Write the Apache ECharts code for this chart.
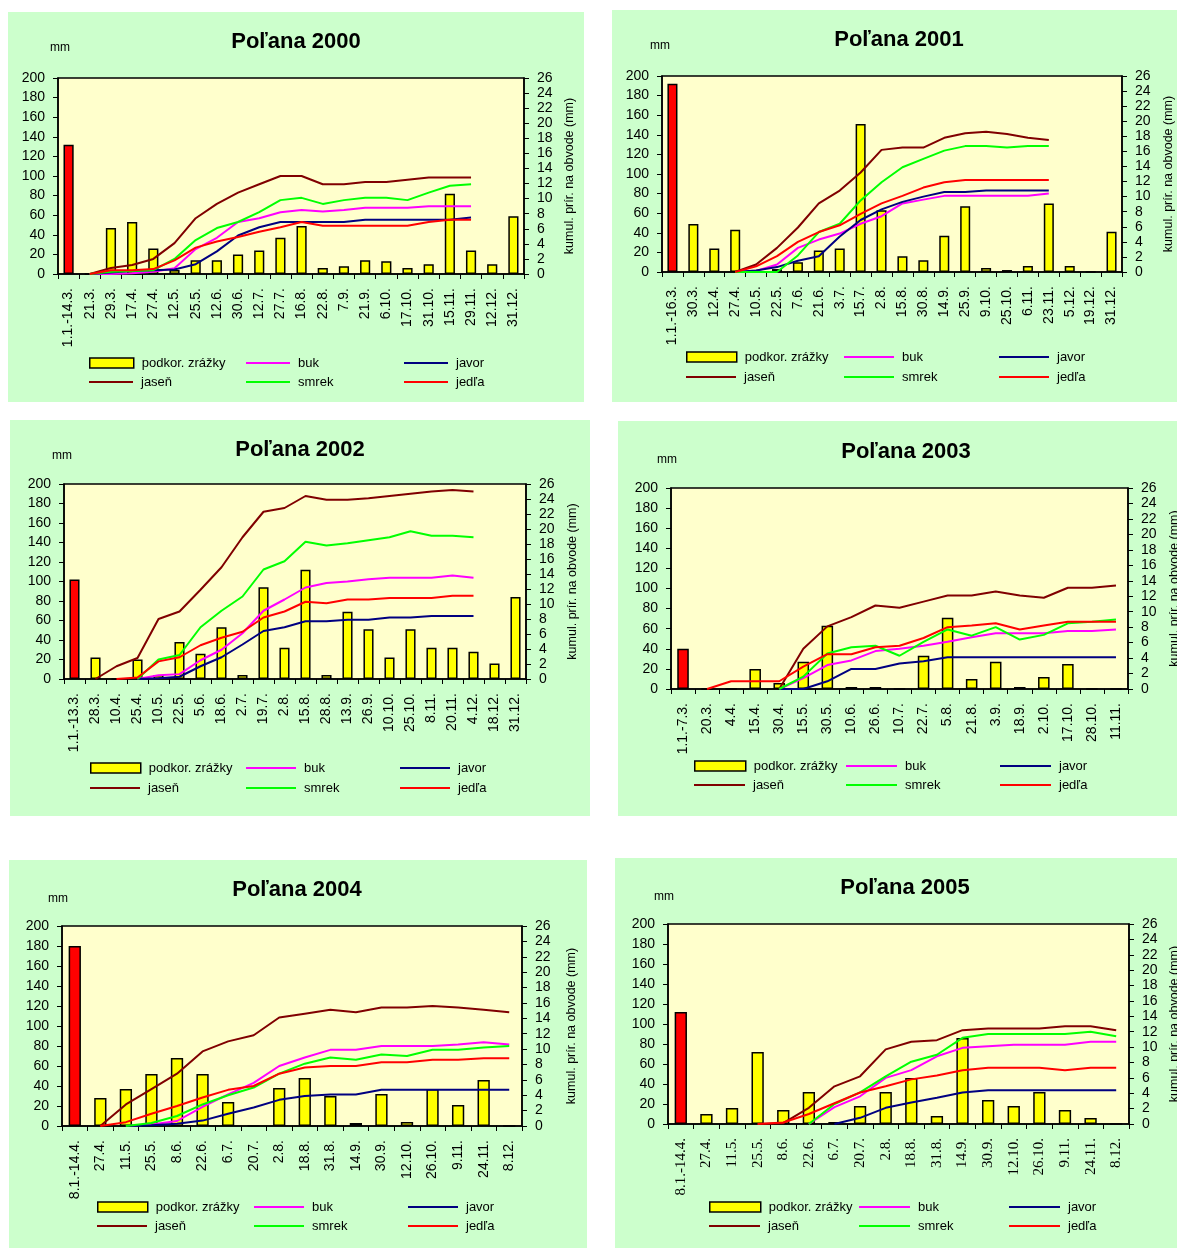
<!DOCTYPE html>
<html>
<head>
<meta charset="utf-8">
<script src="https://cdn.jsdelivr.net/npm/echarts@6/dist/echarts.min.js"></script>
<style>
  html, body { margin: 0; padding: 0; background: #fff; }
  body { position: relative; width: 1177px; height: 1248px; overflow: hidden; }
  .panel { position: absolute; background: #ccffcc; }
</style>
</head>
<body>
<div id="p2000" class="panel"></div>
<div id="p2001" class="panel"></div>
<div id="p2002" class="panel"></div>
<div id="p2003" class="panel"></div>
<div id="p2004" class="panel"></div>
<div id="p2005" class="panel"></div>
<script>
// --- data: bars = podkorunové zrážky (mm, left axis), lines = kumulatívny prírastok (mm, right axis)
const cats2000 = ['1.1.-14.3.', '21.3.', '29.3.', '17.4.', '27.4.', '12.5.', '25.5.', '12.6.', '30.6.', '12.7.', '27.7.', '16.8.', '22.8.', '7.9.', '21.9.', '6.10.', '17.10.', '31.10.', '15.11.', '29.11.', '12.12.', '31.12.']
const zrazky2000 = [132, 0, 47, 53, 26, 4, 14, 14, 20, 24, 37, 49, 6, 8, 14, 13, 6, 10, 82, 24, 10, 59]
const buk2000 = [null, 0, 0, 0.1, 0.3, 0.75, 3.3, 4.8, 6.9, 7.4, 8.2, 8.5, 8.3, 8.5, 8.8, 8.8, 8.8, 9.0, 9.0, 9.0, null, null]
const javor2000 = [null, 0, 0.2, 0.4, 0.5, 0.6, 1.3, 3.0, 5.1, 6.2, 6.9, 6.9, 6.9, 6.9, 7.2, 7.2, 7.2, 7.2, 7.2, 7.5, null, null]
const jasen2000 = [null, 0, 0.8, 1.2, 2.0, 4.1, 7.4, 9.3, 10.8, 11.9, 13.0, 13.0, 11.9, 11.9, 12.2, 12.2, 12.5, 12.8, 12.8, 12.8, null, null]
const smrek2000 = [null, 0, 0.3, 0.4, 0.5, 2.0, 4.5, 6.1, 6.9, 8.2, 9.8, 10.1, 9.3, 9.8, 10.1, 10.1, 9.8, 10.8, 11.7, 11.9, null, null]
const jedla2000 = [null, 0, 0.5, 0.5, 0.65, 1.8, 3.5, 4.3, 4.9, 5.6, 6.2, 6.9, 6.4, 6.4, 6.4, 6.4, 6.4, 6.9, 7.2, 7.2, null, null]

const cats2001 = ['1.1.-16.3.', '30.3.', '12.4.', '27.4.', '10.5.', '22.5.', '7.6.', '21.6.', '3.7.', '15.7.', '2.8.', '15.8.', '30.8.', '14.9.', '25.9.', '9.10.', '25.10.', '6.11.', '23.11.', '5.12.', '19.12.', '31.12.']
const zrazky2001 = [192, 49, 24, 43, 0, 3, 10, 22, 24, 151, 63, 16, 12, 37, 67, 4, 2, 6, 70, 6, 0, 41]
const buk2001 = [null, null, null, 0, 0.15, 1.0, 3.2, 4.3, 5.1, 6.4, 7.4, 9.1, 9.6, 10.1, 10.1, 10.1, 10.1, 10.1, 10.4, null, null, null]
const javor2001 = [null, null, null, 0, 0.2, 0.65, 1.5, 2.1, 4.7, 6.9, 8.3, 9.3, 10.0, 10.6, 10.6, 10.8, 10.8, 10.8, 10.8, null, null, null]
const jasen2001 = [null, null, null, 0, 1.0, 3.2, 5.9, 9.1, 10.8, 13.2, 16.2, 16.5, 16.5, 17.8, 18.4, 18.6, 18.3, 17.8, 17.5, null, null, null]
const smrek2001 = [null, null, null, 0, 0, 0, 2.2, 5.3, 6.4, 9.5, 11.9, 13.9, 15.0, 16.1, 16.7, 16.7, 16.5, 16.7, 16.7, null, null, null]
const jedla2001 = [null, null, null, 0, 0.75, 2.1, 4.0, 5.3, 6.2, 7.7, 9.1, 10.1, 11.2, 11.9, 12.2, 12.2, 12.2, 12.2, 12.2, null, null, null]

const cats2002 = ['1.1.-13.3.', '28.3.', '10.4.', '25.4.', '10.5.', '22.5.', '5.6.', '18.6.', '2.7.', '19.7.', '2.8.', '15.8.', '28.8.', '13.9.', '26.9.', '10.10.', '25.10.', '8.11.', '20.11.', '4.12.', '18.12.', '31.12.']
const zrazky2002 = [102, 22, 0, 20, 4, 38, 26, 53, 4, 94, 32, 112, 4, 69, 51, 22, 51, 32, 32, 28, 16, 84]
const buk2002 = [null, null, null, 0, 0.5, 0.65, 2.5, 3.9, 6.1, 9.1, 10.6, 12.2, 12.8, 13.0, 13.3, 13.5, 13.5, 13.5, 13.8, 13.5, null, null]
const javor2002 = [null, null, null, 0, 0.1, 0.3, 1.7, 2.9, 4.6, 6.4, 6.9, 7.7, 7.7, 7.9, 7.9, 8.2, 8.2, 8.4, 8.4, 8.4, null, null]
const jasen2002 = [null, 0, 1.7, 2.8, 8.0, 9.0, 11.9, 14.9, 18.9, 22.3, 22.8, 24.4, 23.9, 23.9, 24.1, 24.4, 24.7, 25.0, 25.2, 25.0, null, null]
const smrek2002 = [null, null, null, 0, 2.6, 3.2, 6.9, 9.1, 11.0, 14.6, 15.7, 18.3, 17.8, 18.1, 18.5, 18.9, 19.7, 19.1, 19.1, 18.9, null, null]
const jedla2002 = [null, null, 0, 0.2, 2.35, 2.9, 4.5, 5.5, 6.3, 8.2, 9.0, 10.3, 10.1, 10.6, 10.6, 10.8, 10.8, 10.8, 11.1, 11.1, null, null]

const cats2003 = ['1.1.-7.3.', '20.3.', '4.4.', '15.4.', '30.4.', '15.5.', '30.5.', '10.6.', '26.6.', '10.7.', '22.7.', '5.8.', '21.8.', '3.9.', '18.9.', '2.10.', '17.10.', '28.10.', '11.11.']
const zrazky2003 = [40, 0, 0, 20, 6, 27, 63, 2, 2, 0, 33, 71, 10, 27, 2, 12, 25, 0, 0]
const buk2003 = [null, null, null, null, 0, 1.4, 3.1, 3.7, 4.9, 5.2, 5.6, 6.1, 6.7, 7.2, 7.2, 7.2, 7.5, 7.5, 7.7]
const javor2003 = [null, null, null, null, 0, 0, 1.0, 2.6, 2.6, 3.3, 3.6, 4.1, 4.1, 4.1, 4.1, 4.1, 4.1, 4.1, 4.1]
const jasen2003 = [null, null, null, null, 0, 5.2, 8.1, 9.3, 10.8, 10.5, 11.3, 12.1, 12.1, 12.6, 12.1, 11.8, 13.1, 13.1, 13.4]
const smrek2003 = [null, null, null, null, 0, 1.6, 4.6, 5.4, 5.6, 4.3, 6.1, 7.7, 6.9, 8.0, 6.4, 7.0, 8.5, 8.7, 9.0]
const jedla2003 = [null, 0, 1.0, 1.0, 1.0, 2.9, 4.5, 4.5, 5.4, 5.6, 6.6, 8.0, 8.2, 8.5, 7.7, 8.2, 8.7, 8.7, 8.7]

const cats2004 = ['8.1.-14.4.', '27.4.', '11.5.', '25.5.', '8.6.', '22.6.', '6.7.', '20.7.', '2.8.', '18.8.', '31.8.', '14.9.', '30.9.', '12.10.', '26.10.', '9.11.', '24.11.', '8.12.']
const zrazky2004 = [180, 28, 37, 52, 68, 52, 24, 0, 38, 48, 30, 3, 32, 4, 37, 21, 46, 0]
const buk2004 = [null, null, 0, 0.2, 0.65, 2.5, 4.1, 5.6, 7.8, 8.9, 9.9, 9.9, 10.4, 10.4, 10.4, 10.6, 10.9, 10.6]
const javor2004 = [null, null, 0, 0.1, 0.3, 0.7, 1.6, 2.4, 3.4, 3.9, 4.1, 4.1, 4.7, 4.7, 4.7, 4.7, 4.7, 4.7]
const jasen2004 = [null, 0, 2.8, 4.8, 6.8, 9.7, 11.0, 11.8, 14.1, 14.6, 15.1, 14.8, 15.4, 15.4, 15.6, 15.4, 15.1, 14.8]
const smrek2004 = [null, null, 0, 0.4, 1.3, 2.8, 4.0, 5.0, 6.8, 8.1, 8.9, 8.6, 9.3, 9.1, 9.9, 9.9, 10.2, 10.4]
const jedla2004 = [null, 0, 0.5, 1.6, 2.6, 3.7, 4.7, 5.2, 6.8, 7.6, 7.8, 7.8, 8.3, 8.3, 8.6, 8.6, 8.8, 8.8]

const cats2005 = ['8.1.-14.4.', '27.4.', '11.5.', '25.5.', '8.6.', '22.6.', '6.7.', '20.7.', '2.8.', '18.8.', '31.8.', '14.9.', '30.9.', '12.10.', '26.10.', '9.11.', '24.11.', '8.12.']
const zrazky2005 = [112, 10, 16, 72, 14, 32, 2, 18, 32, 46, 8, 86, 24, 18, 32, 14, 6, 0]
const buk2005 = [null, null, null, null, null, 0, 2.2, 3.6, 6.0, 7.0, 8.8, 9.9, 10.1, 10.3, 10.3, 10.3, 10.7, 10.7]
const javor2005 = [null, null, null, null, null, null, 0, 0.8, 2.1, 2.8, 3.4, 4.1, 4.4, 4.4, 4.4, 4.4, 4.4, 4.4]
const jasen2005 = [null, null, null, 0, 0.1, 2.1, 4.9, 6.2, 9.7, 10.7, 10.9, 12.2, 12.4, 12.4, 12.4, 12.7, 12.7, 12.2]
const smrek2005 = [null, null, null, null, null, 0, 2.6, 4.1, 6.2, 8.1, 9.0, 11.2, 11.7, 11.7, 11.7, 11.7, 12.0, 11.4]
const jedla2005 = [null, null, null, 0, 0.2, 1.3, 2.7, 4.1, 4.9, 5.8, 6.3, 7.0, 7.3, 7.3, 7.3, 7.0, 7.3, 7.3]

const names = { bar: 'podkor. zrážky', buk: 'buk', javor: 'javor', jasen: 'jaseň', smrek: 'smrek', jedla: 'jedľa' }
const colors = { buk: '#ff00ff', javor: '#000080', jasen: '#800000', smrek: '#00ff00', jedla: '#ff0000' }
const sans = '"Liberation Sans", Arial, sans-serif'
const serif = '"Liberation Serif", "Times New Roman", serif'

// layout of the six panels (page px); grid/title/legend are relative to the panel
const panels = [
  { id: 'p2000', year: 2000, cats: cats2000, bars: zrazky2000,
    lines: { buk: buk2000, javor: javor2000, jasen: jasen2000, smrek: smrek2000, jedla: jedla2000 },
    box: [8, 12, 576, 390], grid: [50, 66, 466, 196], title: [288, 30], mm: [52, 36],
    legX: [81, 238, 396], legY: [351, 370], iconW: 44, nameGap: 39, xFont: sans, xSize: 14 },
  { id: 'p2001', year: 2001, cats: cats2001, bars: zrazky2001,
    lines: { buk: buk2001, javor: javor2001, jasen: jasen2001, smrek: smrek2001, jedla: jedla2001 },
    box: [612, 10, 565, 392], grid: [50, 66, 460, 196], title: [287, 30], mm: [48, 36],
    legX: [74, 232, 387], legY: [347, 367], iconW: 50, nameGap: 40, xFont: sans, xSize: 14 },
  { id: 'p2002', year: 2002, cats: cats2002, bars: zrazky2002,
    lines: { buk: buk2002, javor: javor2002, jasen: jasen2002, smrek: smrek2002, jedla: jedla2002 },
    box: [10, 420, 580, 396], grid: [54, 64, 462, 195], title: [290, 30], mm: [52, 36],
    legX: [80, 236, 390], legY: [348, 368], iconW: 50, nameGap: 40, xFont: sans, xSize: 14 },
  { id: 'p2003', year: 2003, cats: cats2003, bars: zrazky2003,
    lines: { buk: buk2003, javor: javor2003, jasen: jasen2003, smrek: smrek2003, jedla: jedla2003 },
    box: [618, 421, 559, 395], grid: [53, 67, 457, 201], title: [288, 31], mm: [49, 39],
    legX: [76, 228, 382], legY: [345, 364], iconW: 51, nameGap: 40, xFont: sans, xSize: 14 },
  { id: 'p2004', year: 2004, cats: cats2004, bars: zrazky2004,
    lines: { buk: buk2004, javor: javor2004, jasen: jasen2004, smrek: smrek2004, jedla: jedla2004 },
    box: [9, 860, 578, 388], grid: [53, 66, 460, 200], title: [288, 30], mm: [49, 39],
    legX: [88, 245, 399], legY: [347, 366], iconW: 50, nameGap: 43, xFont: sans, xSize: 14 },
  { id: 'p2005', year: 2005, cats: cats2005, bars: zrazky2005,
    lines: { buk: buk2005, javor: javor2005, jasen: jasen2005, smrek: smrek2005, jedla: jedla2005 },
    box: [615, 858, 562, 390], grid: [53, 66, 461, 200], title: [290, 30], mm: [49, 39],
    legX: [94, 244, 394], legY: [349, 368], iconW: 51, nameGap: 39, xFont: serif, xSize: 15 }
]

// legend cells: [key, column, row]
const legendCells = [['bar', 0, 0], ['buk', 1, 0], ['javor', 2, 0], ['jasen', 0, 1], ['smrek', 1, 1], ['jedla', 2, 1]]

function yAxisBase() {
  return {
    type: 'value',
    axisLine: { show: true, lineStyle: { color: '#000', width: 1.5 } },
    axisTick: { show: true, length: 5, lineStyle: { color: '#000', width: 1 } },
    axisLabel: { fontSize: 14, color: '#000', fontFamily: sans, margin: 13, padding: [0, 0, 10, 0] },
    splitLine: { show: false }
  }
}

panels.forEach(p => {
  const el = document.getElementById(p.id)
  el.style.left = p.box[0] + 'px'
  el.style.top = p.box[1] + 'px'
  el.style.width = p.box[2] + 'px'
  el.style.height = p.box[3] + 'px'
  const chart = echarts.init(el, null, { renderer: 'canvas', width: p.box[2], height: p.box[3] })

  const lineSeries = Object.keys(p.lines).map(k => ({
    name: names[k],
    type: 'line',
    yAxisIndex: 1,
    data: p.lines[k],
    symbol: 'none',
    showSymbol: false,
    lineStyle: { color: colors[k], width: 2 },
    itemStyle: { color: colors[k] },
    z: 3
  }))

  const left = Object.assign(yAxisBase(), { min: 0, max: 200, interval: 20, position: 'left' })
  const right = Object.assign(yAxisBase(), {
    min: 0, max: 26, interval: 2, position: 'right',
    name: 'kumul. prír. na obvode (mm)', nameLocation: 'middle', nameRotate: 90, nameGap: p.nameGap,
    nameTextStyle: { fontSize: 12.5, color: '#000', fontFamily: sans }
  })

  const option = {
    animation: false,
    graphic: [
      { type: 'text', x: p.title[0], y: p.title[1],
        style: { text: 'Poľana ' + p.year, font: 'bold 22px ' + sans, fill: '#000',
          align: 'center', verticalAlign: 'middle', textAlign: 'center', textVerticalAlign: 'middle' } },
      { type: 'text', x: p.mm[0], y: p.mm[1],
        style: { text: 'mm', font: '12px ' + sans, fill: '#000',
          align: 'center', verticalAlign: 'middle', textAlign: 'center', textVerticalAlign: 'middle' } }
    ],
    grid: {
      left: p.grid[0], top: p.grid[1], width: p.grid[2], height: p.grid[3],
      containLabel: false, outerBoundsMode: 'none',
      show: true, backgroundColor: '#ffffcc', borderColor: '#000', borderWidth: 1.5
    },
    legend: legendCells.map(([k, c, r]) => ({
      data: [names[k]],
      left: p.legX[c], top: p.legY[r] - 8,
      padding: 0, icon: 'rect', selectedMode: false,
      itemWidth: p.iconW, itemHeight: k === 'bar' ? 10 : 2,
      itemStyle: k === 'bar' ? { borderColor: '#000', borderWidth: 1.5 } : { borderWidth: 0 },
      textStyle: { fontSize: 13, color: '#000', fontFamily: sans, lineHeight: 16, padding: [0, 0, 0, 3] }
    })),
    xAxis: {
      type: 'category', data: p.cats, boundaryGap: true,
      axisLine: { lineStyle: { color: '#000', width: 1.5 } },
      axisTick: { show: true, interval: 0, length: 5, lineStyle: { color: '#000' } },
      axisLabel: { interval: 0, rotate: 90, fontSize: p.xSize, color: '#000', fontFamily: p.xFont, margin: 14 }
    },
    yAxis: [left, right],
    series: [
      {
        name: names.bar, type: 'bar', yAxisIndex: 0, barWidth: '48%',
        data: p.bars.map((v, i) => i === 0 ? { value: v, itemStyle: { color: '#ff0000' } } : v),
        itemStyle: { color: '#ffff00', borderColor: '#000', borderWidth: 1.5 },
        z: 2
      }
    ].concat(lineSeries)
  }
  chart.setOption(option)
})
</script>
</body>
</html>
